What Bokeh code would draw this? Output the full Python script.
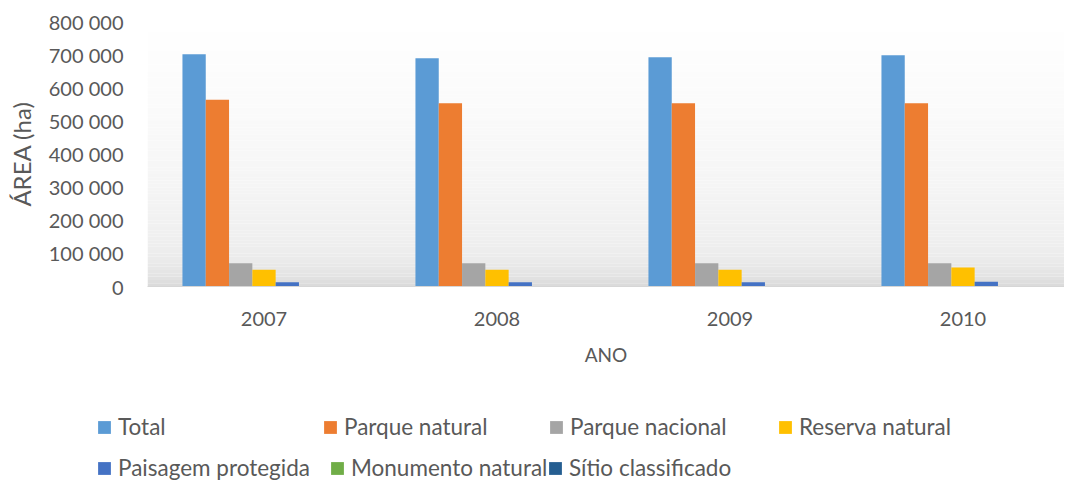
from bokeh.plotting import figure
from bokeh.models import Range1d, FixedTicker, Legend, LegendItem, BoxAnnotation, ColumnDataSource
from bokeh.transform import dodge
from bokeh.embed import file_html
from bokeh.resources import INLINE

# ---- data ----
years = ["2007", "2008", "2009", "2010"]
total = [701000, 689000, 692000, 698000]
parque_natural = [564000, 553000, 553000, 553000]
parque_nacional = [70000, 70000, 70000, 70000]
reserva_natural = [50500, 50500, 50500, 57500]
paisagem_protegida = [12500, 12500, 12500, 14500]
monumento_natural = [400, 400, 400, 400]
sitio_classificado = [300, 300, 300, 300]

series_names = ["Total", "Parque natural", "Parque nacional", "Reserva natural",
                "Paisagem protegida", "Monumento natural", "Sítio classificado"]
series_values = [total, parque_natural, parque_nacional, reserva_natural,
                 paisagem_protegida, monumento_natural, sitio_classificado]
colors = ["#5b9bd5", "#ed7d31", "#a5a5a5", "#ffc000", "#4472c4", "#70ad47", "#255e91"]

y_ticks = [0, 100000, 200000, 300000, 400000, 500000, 600000, 700000, 800000]
y_tick_labels = ["0", "100 000", "200 000", "300 000", "400 000",
                 "500 000", "600 000", "700 000", "800 000"]

FONT = "Lato"
TXT = "#595959"
W = 1064
H1 = 396
H2 = 86

idx = list(range(len(years)))
data = {"idx": idx}
keys = []
for i, vals in enumerate(series_values):
    k = "s%d" % i
    keys.append(k)
    data[k] = vals
source = ColumnDataSource(data)

FRAME_LEFT = 147
x_end = -0.5 + (W - FRAME_LEFT) / 233.0

p = figure(width=W, height=H1, title=None,
           x_range=Range1d(-0.5, x_end), y_range=Range1d(0, 800000),
           output_backend="svg", toolbar_location=None,
           min_border_left=FRAME_LEFT, min_border_right=0, min_border_top=21, min_border_bottom=110,
           outline_line_color=None, background_fill_color="white", border_fill_color="white")
p.xgrid.visible = False
p.ygrid.visible = False

# gradient background of plot area
def gray_at(t):
    pts = [(0.0, 255), (0.3, 251), (0.6, 245), (0.8, 240), (0.9, 235), (0.96, 227), (1.0, 217)]
    for (t0, g0), (t1, g1) in zip(pts[:-1], pts[1:]):
        if t0 <= t <= t1:
            return g0 + (g1 - g0) * (t - t0) / (t1 - t0)
    return pts[-1][1]

nb = 80
step = 800000 / nb
for i in range(nb):
    b = i * step
    t = 1 - (b + step / 2) / 800000
    g = int(round(gray_at(t)))
    p.add_layout(BoxAnnotation(bottom=b, top=b + step, fill_color="#%02x%02x%02x" % (g, g, g),
                               fill_alpha=1, line_color=None, level="underlay"))

bar_w = 0.1
n = len(series_names)
for i, k in enumerate(keys):
    off = (i - (n - 1) / 2) * bar_w
    p.vbar(x=dodge("idx", off), top=k, width=bar_w, bottom=0, source=source,
           fill_color=colors[i], line_color=None)

# axes
yax = p.yaxis[0]
yax.ticker = FixedTicker(ticks=y_ticks)
yax.major_label_overrides = {v: s for v, s in zip(y_ticks, y_tick_labels)}
yax.axis_line_color = None
yax.major_tick_line_color = None
yax.minor_tick_line_color = None
yax.major_tick_out = 0
yax.major_label_standoff = 24
yax.major_label_text_font = FONT
yax.major_label_text_font_size = "20px"
yax.major_label_text_color = TXT
yax.axis_label = "ÁREA (ha)"
yax.axis_label_text_font = FONT
yax.axis_label_text_font_size = "24px"
yax.axis_label_text_font_style = "normal"
yax.axis_label_text_color = TXT
yax.axis_label_standoff = 10

xax = p.xaxis[0]
xax.ticker = FixedTicker(ticks=idx)
xax.major_label_overrides = {i: y for i, y in zip(idx, years)}
xax.axis_line_color = "#d6d6d6"
xax.axis_line_width = 1
xax.major_tick_line_color = None
xax.minor_tick_line_color = None
xax.major_tick_out = 0
xax.major_label_standoff = 25
xax.major_label_text_font = FONT
xax.major_label_text_font_size = "20px"
xax.major_label_text_color = TXT
xax.axis_label = "ANO"
xax.axis_label_text_font = FONT
xax.axis_label_text_font_size = "19px"
xax.axis_label_text_font_style = "normal"
xax.axis_label_text_color = TXT
xax.axis_label_standoff = 14

# legend strip below the chart (separate root, so its frame starts at x=0)
lf = figure(width=W, height=H2, title=None, x_range=Range1d(0, W), y_range=Range1d(0, H2),
            output_backend="svg", toolbar_location=None, min_border=0,
            x_axis_type=None, y_axis_type=None, outline_line_color=None,
            background_fill_color="white", border_fill_color="white")
lf.xgrid.visible = False
lf.ygrid.visible = False
proxies = []
for i, name in enumerate(series_names):
    # off-screen proxy bar, only used to draw the legend swatch
    r = lf.vbar(x=[-1000], top=[0], width=1, fill_color=colors[i], line_color=None)
    proxies.append(r)

# (left x, bottom y) of each legend entry inside the strip, in pixels
leg_pos = [(96, 42), (322, 42), (548, 42), (777, 42),
           (96, 1), (329, 1), (547, 1)]
for i, name in enumerate(series_names):
    lx, ly = leg_pos[i]
    leg = Legend(items=[LegendItem(label=name, renderers=[proxies[i]])],
                 location=(lx, ly), orientation="horizontal",
                 padding=0, margin=0, spacing=0,
                 border_line_color=None, background_fill_alpha=0,
                 glyph_width=16, glyph_height=16, label_standoff=6,
                 label_height=20, label_text_font=FONT, label_text_font_size="22.5px",
                 label_text_color=TXT)
    lf.add_layout(leg, "center")

open("out.html", "w").write(file_html([p, lf], INLINE))
